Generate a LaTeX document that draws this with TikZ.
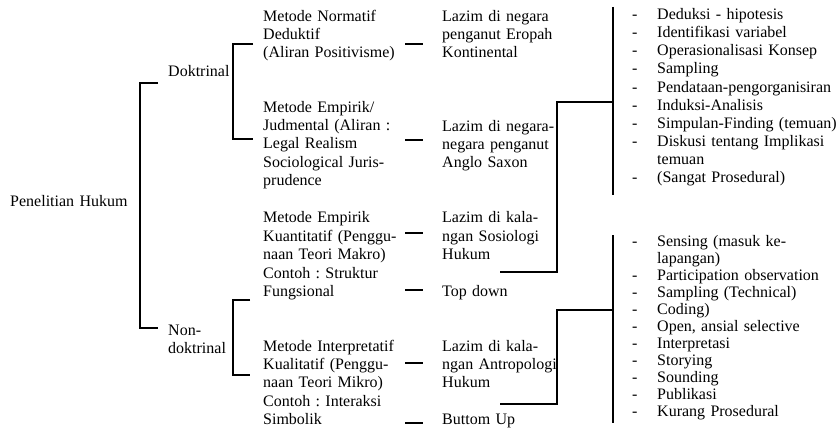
\documentclass[tikz,border=0pt]{standalone}
\usepackage{fontspec}
\setmainfont{Liberation Serif}
\frenchspacing
\begin{document}
\begin{tikzpicture}[x=1pt,y=-1pt,
  txt/.style={anchor=base west, inner sep=0pt, text width=300pt, align=left,
    font=\fontsize{16}{18.2}\selectfont\frenchspacing},
  lst/.style={txt, font=\fontsize{16}{18.15}\selectfont\frenchspacing},
  lstb/.style={txt, font=\fontsize{16}{17}\selectfont\frenchspacing},
  br/.style={line width=1.5pt, line join=miter}]
\useasboundingbox (0,0) rectangle (837,428);
\newcommand\dashitem[1]{\makebox[25pt][l]{-}#1}
\newcommand\noitem[1]{\hspace*{25pt}#1}

% texts
\node[txt] (root) at (10,206) {Penelitian Hukum};
\node[txt] (dok) at (168,77) {Doktrinal};
\node[txt] (non) at (168,335) {Non-\\doktrinal};

\node[txt] (m1) at (263,21.5) {Metode Normatif\\Deduktif\\(Aliran Positivisme)};
\node[txt] (m2) at (263,112.5) {Metode Empirik/\\Judmental (Aliran :\\Legal Realism\\Sociological Juris-\\prudence};
\node[txt, font=\fontsize{16}{18.5}\selectfont\frenchspacing] (m3) at (263,222.5) {Metode Empirik\\Kuantitatif (Penggu-\\naan Teori Makro)\\Contoh : Struktur\\Fungsional};
\node[txt] (m4) at (263,351.5) {Metode Interpretatif\\Kualitatif (Penggu-\\naan Teori Mikro)\\Contoh : Interaksi\\Simbolik};

\node[txt] (l1) at (442,21.5) {Lazim di negara\\penganut Eropah\\Kontinental};
\node[txt] (l2) at (442,131.5) {Lazim di negara-\\negara penganut\\Anglo Saxon};
\node[txt, font=\fontsize{16}{18.5}\selectfont\frenchspacing] (l3) at (442,222.5) {Lazim di kala-\\ngan Sosiologi\\Hukum};
\node[txt] (l4) at (442,296.5) {Top down};
\node[txt] (l5) at (442,351.5) {Lazim di kala-\\ngan Antropologi\\Hukum};
\node[txt] (l6) at (442,424.5) {Buttom Up};

\node[lst] (r1) at (632,19.5) {\dashitem{Deduksi - hipotesis}\\
\dashitem{Identifikasi variabel}\\
\dashitem{Operasionalisasi Konsep}\\
\dashitem{Sampling}\\
\dashitem{Pendataan-pengorganisiran}\\
\dashitem{Induksi-Analisis}\\
\dashitem{Simpulan-Finding (temuan)}\\
\dashitem{Diskusi tentang Implikasi}\\
\noitem{temuan}\\
\dashitem{(Sangat Prosedural)}};

\node[lstb] (r2) at (632,246) {\dashitem{Sensing (masuk ke-}\\
\noitem{lapangan)}\\
\dashitem{Participation observation}\\
\dashitem{Sampling (Technical)}\\
\dashitem{Coding)}\\
\dashitem{Open, ansial selective}\\
\dashitem{Interpretasi}\\
\dashitem{Storying}\\
\dashitem{Sounding}\\
\dashitem{Publikasi}\\
\dashitem{Kurang Prosedural}};

% coordinates
\coordinate (b0t) at (158,83);  \coordinate (b0b) at (158,328);
\coordinate (b1t) at (253,44);  \coordinate (b1b) at (253,139);
\coordinate (b2t) at (250,300); \coordinate (b2b) at (250,375);

% brackets
\draw[br] (b0t) -- (140,83) -- (140,328) -- (b0b);
\draw[br] (b1t) -- (233,44) -- (233,139) -- (b1b);
\draw[br] (b2t) -- (233,300) -- (233,375) -- (b2b);

% short connectors
\foreach \yy in {44,140,233,290,363,423}
  \draw[br] (405,\yy) -- (423,\yy);

% right connectors
\coordinate (c1s) at (500,272); \coordinate (c1e) at (613,102);
\coordinate (c2s) at (500,404); \coordinate (c2e) at (613,310);
\draw[br] (c1s) -- (557,272) -- (557,102) -- (c1e);
\draw[br] (c2s) -- (557,404) -- (557,310) -- (c2e);
\draw[br] (613,7) -- (613,195);
\draw[br] (613,235) -- (613,423);
\end{tikzpicture}
\end{document}
